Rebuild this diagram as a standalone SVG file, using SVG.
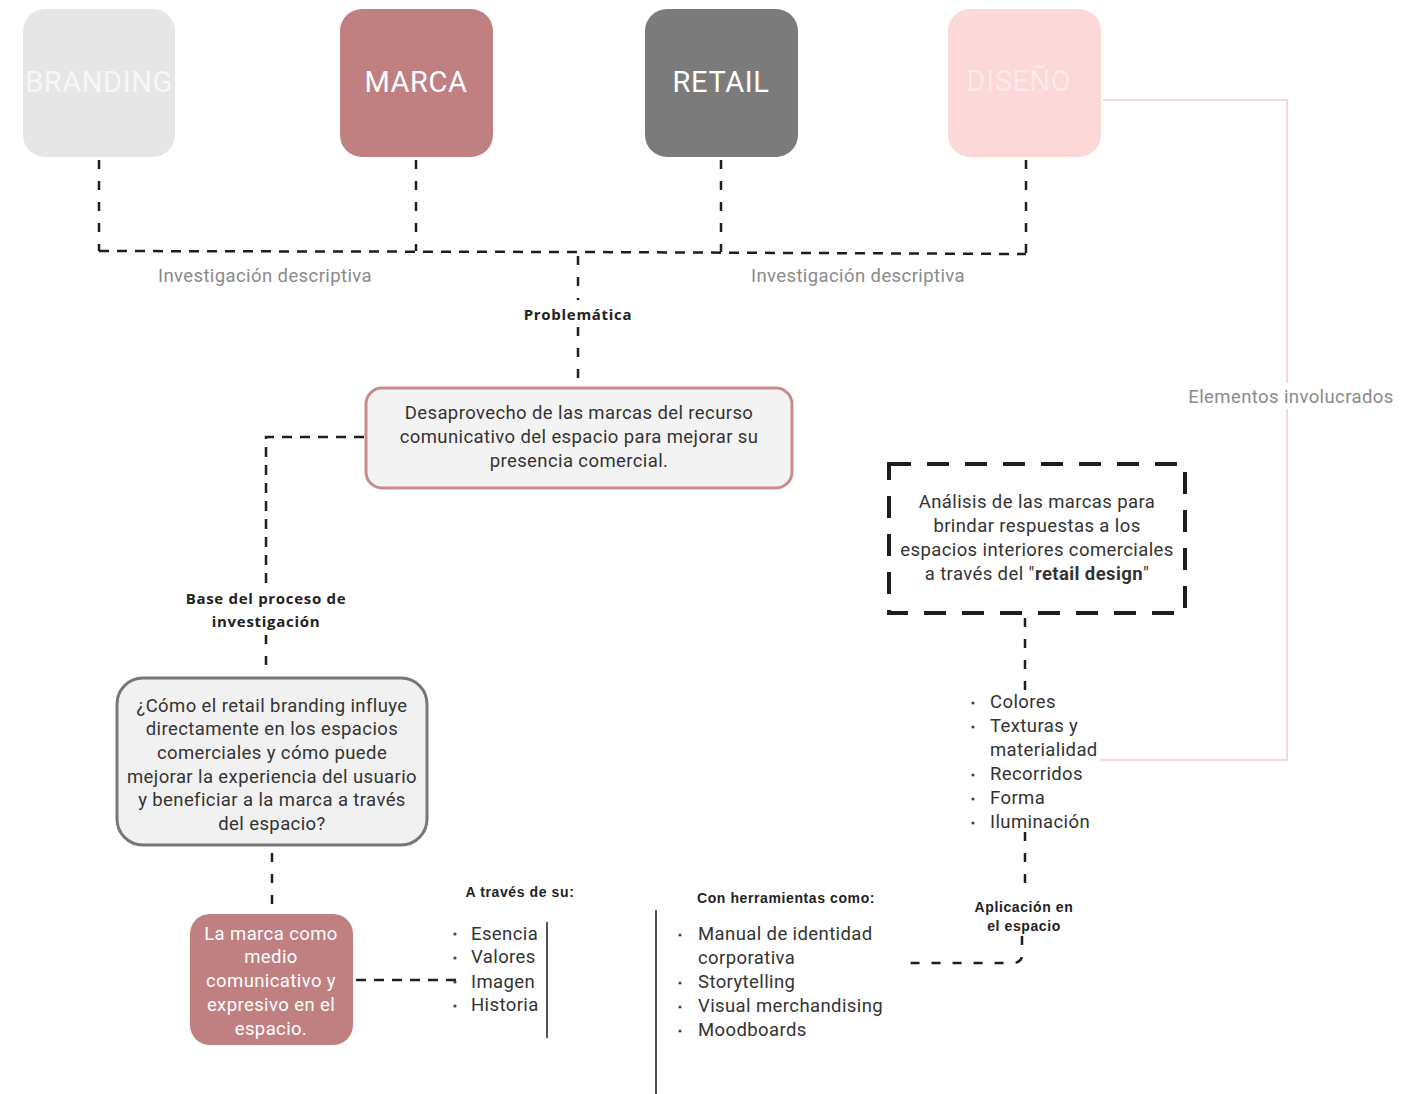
<svg xmlns="http://www.w3.org/2000/svg" width="1422" height="1094" viewBox="0 0 1422 1094">
  <style>
    .head { font-family: Roboto, "Liberation Sans", sans-serif; font-size: 29px; letter-spacing: 0.6px; fill: #ffffff; text-anchor: middle; }
    .body { font-family: Roboto, "Liberation Sans", sans-serif; font-size: 18.5px; letter-spacing: 0.4px; fill: #333333; text-anchor: middle; }
    .grey { font-family: Roboto, "Liberation Sans", sans-serif; font-size: 18.5px; letter-spacing: 0.4px; fill: #8a8a8a; text-anchor: middle; }
    .lbl { font-family: "Open Sans", "Liberation Sans", sans-serif; font-size: 15px; letter-spacing: 0.7px; font-weight: bold; fill: #222222; text-anchor: middle; }
    .lbl2 { font-family: "Liberation Sans", Arial, sans-serif; font-size: 14px; letter-spacing: 0.6px; font-weight: bold; fill: #222222; text-anchor: middle; }
    .list { font-family: Roboto, "Liberation Sans", sans-serif; font-size: 18.5px; letter-spacing: 0.4px; fill: #333333; }
    .dash { fill: none; stroke: #1e1e1e; stroke-width: 2.5; stroke-dasharray: 10 8; }
    .vdash { fill: none; stroke: #1e1e1e; stroke-width: 2.5; stroke-dasharray: 9 12; }
    .pink { fill: none; stroke: #f7d8da; stroke-width: 2; }
    .rule { fill: none; stroke: #555555; stroke-width: 2; }
    .dot { fill: #444444; }
  </style>

  <rect width="1422" height="1094" fill="#ffffff"/>

  <!-- connectors -->
  <g id="connectors">
    <!-- top branches into the shared line -->
    <path class="vdash" d="M99 160 V251"/>
    <path class="vdash" d="M416 160 V251"/>
    <path class="vdash" d="M721 160 V252"/>
    <path class="vdash" d="M1026 160 V254"/>
    <path class="dash" d="M99 251 L578 252 L1026 254"/>
    <!-- down to the problem statement -->
    <path class="vdash" d="M578 256 V300"/>
    <path class="vdash" d="M578 327 V382"/>
    <!-- problem to research base -->
    <path class="dash" d="M364 437 H266 V585"/>
    <path class="vdash" d="M266 635 V672"/>
    <!-- question to brand node -->
    <path class="vdash" d="M272 853 V907"/>
    <!-- brand node to attribute list -->
    <path class="dash" d="M356 980 H456"/>
    <!-- analysis to elements list -->
    <path class="vdash" d="M1025 618 V690"/>
    <path class="vdash" d="M1025 832 V892"/>
    <path class="vdash" d="M1022 936 V955 Q1022 963 1012 963 H903" stroke-dasharray="9 9"/>
    <!-- design elements bracket -->
    <path class="pink" d="M1103 100 H1287 V760 H1100"/>
    <!-- list separators -->
    <path class="rule" d="M547 922 V1038"/>
    <path class="rule" d="M656 910 V1094"/>
  </g>

  <!-- top row -->
  <g id="branding">
    <rect x="23" y="9" width="152" height="148" rx="22" fill="#e6e6e6"/>
    <text class="head" x="99" y="92" style="fill:#f7f7f7">BRANDING</text>
  </g>
  <g id="marca">
    <rect x="340" y="9" width="153" height="148" rx="22" fill="#c08081"/>
    <text class="head" x="416" y="92">MARCA</text>
  </g>
  <g id="retail">
    <rect x="645" y="9" width="153" height="148" rx="22" fill="#7b7b7b"/>
    <text class="head" x="721" y="92">RETAIL</text>
  </g>
  <g id="diseno">
    <rect x="948" y="9" width="153" height="148" rx="22" fill="#fcd8d8"/>
    <text class="head" x="1019" y="91" style="fill:#fdeaea">DISEÑO</text>
  </g>

  <!-- connector labels -->
  <g id="labels">
    <text class="grey" x="265" y="282">Investigación descriptiva</text>
    <text class="grey" x="858" y="282">Investigación descriptiva</text>
    <text class="lbl" x="578" y="320">Problemática</text>
    <text class="lbl" x="266" y="604">Base del proceso de</text>
    <text class="lbl" x="266" y="627">investigación</text>
    <rect x="1184" y="383" width="214" height="26" fill="#ffffff"/>
    <text class="grey" x="1291" y="403">Elementos involucrados</text>
    <text class="lbl2" x="520" y="897">A través de su:</text>
    <text class="lbl2" x="786" y="903">Con herramientas como:</text>
    <text class="lbl2" x="1024" y="912">Aplicación en</text>
    <text class="lbl2" x="1024" y="931">el espacio</text>
  </g>

  <g id="problema">
    <rect x="366" y="388" width="426" height="100" rx="16" fill="#f3f3f3" stroke="#c98b8d" stroke-width="3"/>
    <text class="body" x="579" y="419">Desaprovecho de las marcas del recurso</text>
    <text class="body" x="579" y="443">comunicativo del espacio para mejorar su</text>
    <text class="body" x="579" y="467">presencia comercial.</text>
  </g>

  <g id="pregunta">
    <rect x="117" y="678" width="310" height="167" rx="26" fill="#f1f1f1" stroke="#777777" stroke-width="3"/>
    <text class="body" x="272" y="712">¿Cómo el retail branding influye</text>
    <text class="body" x="272" y="735">directamente en los espacios</text>
    <text class="body" x="272" y="759">comerciales y cómo puede</text>
    <text class="body" x="272" y="783">mejorar la experiencia del usuario</text>
    <text class="body" x="272" y="806">y beneficiar a la marca a través</text>
    <text class="body" x="272" y="830">del espacio?</text>
  </g>

  <g id="marca-medio">
    <rect x="190" y="914" width="163" height="131" rx="20" fill="#c08081"/>
    <text class="body" x="271" y="940" style="fill:#ffffff">La marca como</text>
    <text class="body" x="271" y="963" style="fill:#ffffff">medio</text>
    <text class="body" x="271" y="987" style="fill:#ffffff">comunicativo y</text>
    <text class="body" x="271" y="1011" style="fill:#ffffff">expresivo en el</text>
    <text class="body" x="271" y="1035" style="fill:#ffffff">espacio.</text>
  </g>

  <g id="atributos">
    <circle class="dot" cx="455" cy="934" r="1.6"/>
    <circle class="dot" cx="455" cy="958" r="1.6"/>
    <circle class="dot" cx="455" cy="982" r="1.6"/>
    <circle class="dot" cx="455" cy="1006" r="1.6"/>
    <text class="list" x="471" y="940">Esencia</text>
    <text class="list" x="471" y="963">Valores</text>
    <text class="list" x="471" y="988">Imagen</text>
    <text class="list" x="471" y="1011">Historia</text>
  </g>

  <g id="herramientas">
    <circle class="dot" cx="680" cy="935" r="1.6"/>
    <circle class="dot" cx="680" cy="983" r="1.6"/>
    <circle class="dot" cx="680" cy="1007" r="1.6"/>
    <circle class="dot" cx="680" cy="1031" r="1.6"/>
    <text class="list" x="698" y="940">Manual de identidad</text>
    <text class="list" x="698" y="964">corporativa</text>
    <text class="list" x="698" y="988">Storytelling</text>
    <text class="list" x="698" y="1012">Visual merchandising</text>
    <text class="list" x="698" y="1036">Moodboards</text>
  </g>

  <g id="analisis">
    <rect x="889" y="464" width="296" height="149" fill="#ffffff" stroke="#1e1e1e" stroke-width="4" stroke-dasharray="22 16"/>
    <text class="body" x="1037" y="508">Análisis de las marcas para</text>
    <text class="body" x="1037" y="532">brindar respuestas a los</text>
    <text class="body" x="1037" y="556">espacios interiores comerciales</text>
    <text class="body" x="1037" y="580">a través del "<tspan font-weight="bold">retail design</tspan>"</text>
  </g>

  <g id="elementos">
    <circle class="dot" cx="973" cy="703" r="1.6"/>
    <circle class="dot" cx="973" cy="727" r="1.6"/>
    <circle class="dot" cx="973" cy="775" r="1.6"/>
    <circle class="dot" cx="973" cy="799" r="1.6"/>
    <circle class="dot" cx="973" cy="823" r="1.6"/>
    <text class="list" x="990" y="708">Colores</text>
    <text class="list" x="990" y="732">Texturas y</text>
    <text class="list" x="990" y="756">materialidad</text>
    <text class="list" x="990" y="780">Recorridos</text>
    <text class="list" x="990" y="804">Forma</text>
    <text class="list" x="990" y="828">Iluminación</text>
  </g>
</svg>
